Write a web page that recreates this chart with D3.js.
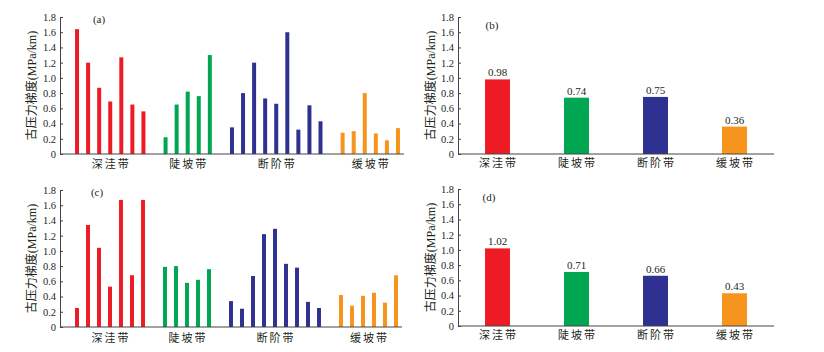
<!DOCTYPE html>
<html>
<head>
<meta charset="utf-8">
<script src="https://cdn.jsdelivr.net/npm/d3@7"></script>
<style>
body{margin:0;background:#fff}
text{font-family:"Liberation Serif","Noto Sans CJK SC",serif;fill:#231f20}
</style>
</head>
<body>
<svg width="824" height="352"></svg>
<script>
const svg=d3.select("svg")
const zones=["深洼带","陡坡带","断阶带","缓坡带"]
const colors=["#ed1c24","#00a651","#2e3192","#f7941d"]
const yTicks=[0,0.2,0.4,0.6,0.8,1.0,1.2,1.4,1.6,1.8]

// (a) single wells
const aDeep=[1.64,1.20,0.87,0.69,1.27,0.65,0.56]
const aSteep=[0.22,0.65,0.82,0.76,1.30]
const aStep=[0.35,0.80,1.20,0.73,0.66,1.60,0.32,0.64,0.43]
const aGentle=[0.28,0.30,0.80,0.27,0.18,0.34]
// (c) single wells
const cDeep=[0.25,1.34,1.04,0.53,1.67,0.68,1.67]
const cSteep=[0.79,0.80,0.58,0.62,0.76]
const cStep=[0.34,0.24,0.67,1.22,1.29,0.83,0.78,0.33,0.25]
const cGentle=[0.42,0.28,0.41,0.45,0.32,0.68]
// (b)(d) averages
const bMean=[0.98,0.74,0.75,0.36]
const dMean=[1.02,0.71,0.66,0.43]

fmt=(d)=>d===0?"0":d3.format(".1f")(d)

yAxisDraw=(g,y,x0,labelX)=>{
g.append("g").attr("transform",`translate(${x0},0)`)
.call(d3.axisLeft(y).tickValues(yTicks).tickFormat(fmt).tickSizeInner(-3).tickSizeOuter(0).tickPadding(4))
.call(a=>a.selectAll("path,line").attr("stroke","#444"))
.call(a=>a.selectAll("text").attr("font-size",10.5).attr("font-family","Liberation Serif").attr("fill","#231f20"))
g.append("text").attr("transform",`translate(${labelX},${(y.range()[0]+y.range()[1])/2}) rotate(-90)`)
.attr("text-anchor","middle").attr("dy","0.35em").attr("font-size",12).text("古压力梯度(MPa/km)")
}

wells=(groups,x0,x1,b0,b1,y0,y1,tag,tagX,labelDy)=>{
const g=svg.append("g")
const y=d3.scaleLinear().domain([0,1.8]).range([y0,y1])
let keys=[],rows=[]
groups.forEach((vals,gi)=>{
if(gi>0)keys.push("gap"+gi)
vals.forEach((v,i)=>{const k=gi+"-"+i;keys.push(k);rows.push({k,v,gi})})
})
const x=d3.scaleBand().domain(keys).range([b0,b1]).paddingInner(0.64).paddingOuter(0.32)
g.selectAll("rect").data(rows).join("rect")
.attr("x",d=>x(d.k)).attr("width",x.bandwidth())
.attr("y",d=>y(d.v)).attr("height",d=>y(0)-y(d.v))
.attr("fill",d=>colors[d.gi])
g.append("line").attr("x1",x0).attr("x2",x1).attr("y1",y0).attr("y2",y0).attr("stroke","#444")
yAxisDraw(g,y,x0,x0-28)
groups.forEach((vals,gi)=>{
const c=(x(gi+"-0")+x(gi+"-"+(vals.length-1))+x.bandwidth())/2
g.append("text").attr("x",c+1).attr("y",y0+labelDy).attr("text-anchor","middle").attr("font-size",11).attr("letter-spacing",2).text(zones[gi])
})
g.append("text").attr("x",tagX).attr("y",y(1.72)).attr("text-anchor","middle").attr("font-size",11).text(tag)
}

means=(vals,x0,x1,y0,y1,tag,tagX)=>{
const g=svg.append("g")
const y=d3.scaleLinear().domain([0,1.8]).range([y0,y1])
const x=d3.scaleBand().domain(zones).range([x0,x1]).paddingInner(0.684).paddingOuter(0.342)
const rows=zones.map((z,i)=>({z,v:vals[i],i}))
g.selectAll("rect").data(rows).join("rect")
.attr("x",d=>x(d.z)).attr("width",x.bandwidth())
.attr("y",d=>y(d.v)).attr("height",d=>y(0)-y(d.v))
.attr("fill",d=>colors[d.i])
g.selectAll(".val").data(rows).join("text").attr("class","val")
.attr("x",d=>x(d.z)+x.bandwidth()/2).attr("y",d=>y(d.v)-3)
.attr("text-anchor","middle").attr("font-size",11).text(d=>d.v.toFixed(2))
g.append("line").attr("x1",x0).attr("x2",x1).attr("y1",y0).attr("y2",y0).attr("stroke","#444")
yAxisDraw(g,y,x0,x0-27)
g.selectAll(".cat").data(rows).join("text").attr("class","cat")
.attr("x",d=>x(d.z)+x.bandwidth()/2+1).attr("y",y0+13)
.attr("text-anchor","middle").attr("font-size",11).attr("letter-spacing",2).text(d=>d.z)
g.append("text").attr("x",tagX).attr("y",y(1.64)).attr("text-anchor","middle").attr("font-size",11).text(tag)
}

wells([aDeep,aSteep,aStep,aGentle],60,404,71.5,403.5,154,17,"(a)",99,14)
wells([cDeep,cSteep,cStep,cGentle],60,402,71.5,401.5,327,190,"(c)",97,15)
means(bMean,458,774,154,17,"(b)",492)
means(dMean,458,774,326,189,"(d)",489)
</script>
</body>
</html>
